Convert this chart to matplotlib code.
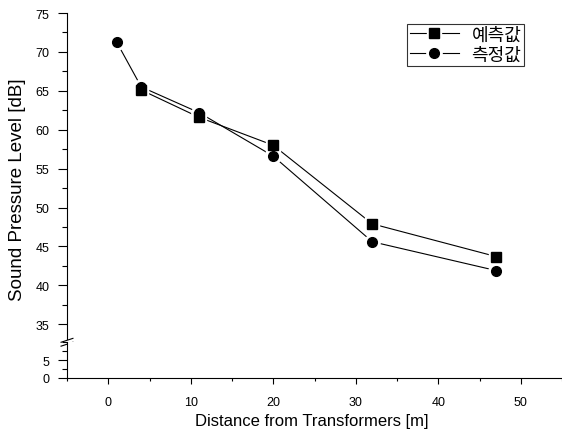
import numpy as np
import matplotlib.pyplot as plt
from matplotlib.ticker import MultipleLocator

plt.rcParams['font.family'] = ['Liberation Sans', 'Noto Sans CJK KR', 'DejaVu Sans']

# data
x_pred = [4, 11, 20, 32, 47]
y_pred = [65.1, 61.6, 58.0, 47.9, 43.7]
x_meas = [1, 4, 11, 20, 32, 47]
y_meas = [71.3, 65.5, 62.2, 56.6, 45.6, 41.9]

fig = plt.figure(figsize=(5.62, 4.39), dpi=100)
W, H = 562, 439
left, right = 67 / W, 1.0
ax = fig.add_axes([left, 1 - 340 / H, right - left, (340 - 14) / H])
ax2 = fig.add_axes([left, 1 - 379 / H, right - left, (379 - 343) / H], sharex=ax)

# lines, then a white halo under each marker, then the black markers
l1, = ax.plot(x_pred, y_pred, color='black', lw=0.8)
l2, = ax.plot(x_meas, y_meas, color='black', lw=0.8)
w1, = ax.plot(x_pred, y_pred, ls='none', marker='s', ms=10, color='white')
w2, = ax.plot(x_meas, y_meas, ls='none', marker='o', ms=11, color='white')
m1, = ax.plot(x_pred, y_pred, ls='none', marker='s', ms=6.5, color='black')
m2, = ax.plot(x_meas, y_meas, ls='none', marker='o', ms=7, color='black')

for a in (ax, ax2):
    a.spines['top'].set_visible(False)
    a.spines['right'].set_visible(False)
    a.tick_params(labelsize=9, direction='out', width=0.8)
    a.tick_params(axis='y', which='major', length=6.5, pad=6)
    a.tick_params(axis='y', which='minor', length=3.5, width=0.8)
    a.tick_params(axis='x', which='major', length=4, pad=9)
    a.tick_params(axis='x', which='minor', length=2.5, width=0.8)

ax.set_xlim(-5, 55)
ax.set_ylim(33.1, 75)
ax2.set_ylim(0, 10)
ax.spines['bottom'].set_visible(False)
ax.tick_params(axis='x', which='both', bottom=False, labelbottom=False)
ax.yaxis.set_major_locator(MultipleLocator(5))
ax.yaxis.set_minor_locator(MultipleLocator(2.5))
ax2.set_yticks([0, 5])
ax2.yaxis.set_minor_locator(MultipleLocator(2.5))
ax2.xaxis.set_major_locator(MultipleLocator(10))
ax2.xaxis.set_minor_locator(MultipleLocator(5))

# break marks on the y axis
for yb in (-0.004, -0.016):
    ax.plot([-0.012, 0.012], [yb - 0.006, yb + 0.006], transform=ax.transAxes,
            color='black', lw=0.8, clip_on=False)

leg = ax.legend([(l1, w1, m1), (l2, w2, m2)], ['예측값', '측정값'],
                loc='upper right', bbox_to_anchor=(524 / W, 1 - 25 / H),
                bbox_transform=fig.transFigure, fontsize=13, frameon=True,
                fancybox=False, edgecolor='black', handlelength=2.7,
                handletextpad=0.7, borderpad=0.15, labelspacing=0.15,
                borderaxespad=0)
leg.get_frame().set_linewidth(0.8)

fig.text(18 / W, 1 - 190 / H, 'Sound Pressure Level [dB]', rotation=90,
         ha='center', va='center', fontsize=13.5)
fig.text(312 / W, 1 - 422 / H, 'Distance from Transformers [m]',
         ha='center', va='center', fontsize=12)

fig.savefig('out.png', dpi=100)
